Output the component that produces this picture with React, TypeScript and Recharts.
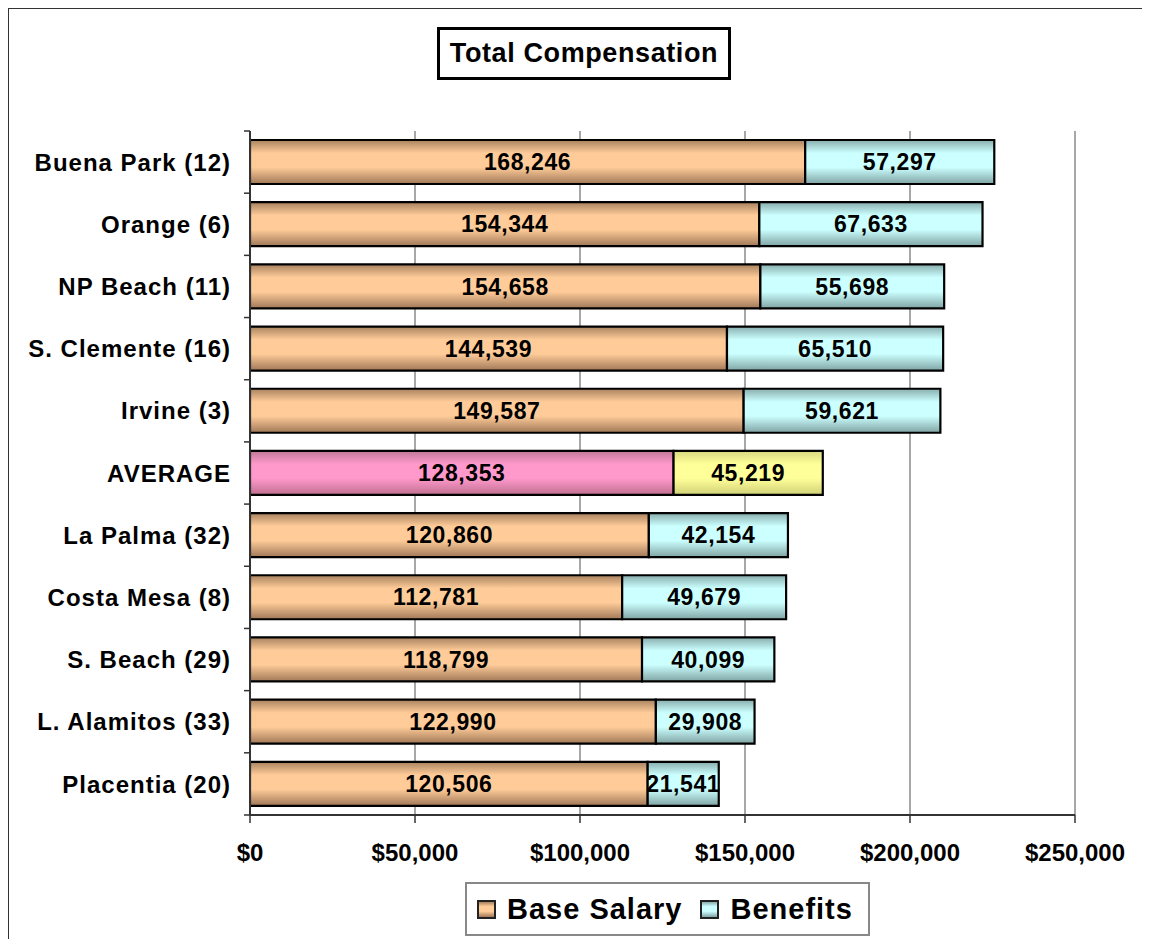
import React from "react";
import { BarChart, Bar, XAxis, YAxis, CartesianGrid, LabelList, Cell } from "recharts";

const categories = [
  "Buena Park (12)",
  "Orange (6)",
  "NP Beach (11)",
  "S. Clemente (16)",
  "Irvine (3)",
  "AVERAGE",
  "La Palma (32)",
  "Costa Mesa (8)",
  "S. Beach (29)",
  "L. Alamitos (33)",
  "Placentia (20)",
];
const baseSalary = [168246, 154344, 154658, 144539, 149587, 128353, 120860, 112781, 118799, 122990, 120506];
const benefits = [57297, 67633, 55698, 65510, 59621, 45219, 42154, 49679, 40099, 29908, 21541];
const xTicks = [0, 50000, 100000, 150000, 200000, 250000];
const highlightCategory = "AVERAGE";

const data = categories.map((name, i) => ({ name, base: baseSalary[i], benefits: benefits[i] }));

const FONT = '"Liberation Sans", Arial, Helvetica, sans-serif';
const CHART_W = 1142;
const CHART_H = 931;
const MARGIN = { top: 123, right: 75, left: 0, bottom: 64 };
const X_AXIS_H = 60;
const PLOT_H = CHART_H - MARGIN.top - MARGIN.bottom - X_AXIS_H;
const BAND = PLOT_H / categories.length;

const fmtNum = (v: any) => Number(v).toLocaleString("en-US");
const fmtMoney = (v: any) => "$" + Number(v).toLocaleString("en-US");

const YTick = (props: any) => {
  const { x, y, payload, index } = props;
  const half = BAND / 2;
  return (
    <g>
      <text
        x={x - 19}
        y={y}
        dy="0.36em"
        textAnchor="end"
        fontFamily={FONT}
        fontWeight="bold"
        fontSize={24}
        letterSpacing={1}
        fill="#000"
      >
        {payload.value}
      </text>
      <line x1={x - 6} x2={x} y1={y - half} y2={y - half} stroke="#333" strokeWidth={1.5} />
      {index === categories.length - 1 && (
        <line x1={x - 6} x2={x} y1={y + half} y2={y + half} stroke="#333" strokeWidth={1.5} />
      )}
    </g>
  );
};

const XTick = (props: any) => {
  const { x, y, payload } = props;
  return (
    <text
      x={x}
      y={y + 38}
      textAnchor="middle"
      fontFamily={FONT}
      fontWeight="bold"
      fontSize={24}
      fill="#000"
    >
      {fmtMoney(payload.value)}
    </text>
  );
};

const labelStyle = {
  fontFamily: FONT,
  fontWeight: "bold" as const,
  fontSize: 23,
  letterSpacing: 0.6,
};

const grad = (id: string, edgeTop: string, mid: string, edgeBottom: string) => (
  <linearGradient id={id} x1="0" y1="0" x2="0" y2="1">
    <stop offset="0%" stopColor={edgeTop} />
    <stop offset="30%" stopColor={mid} />
    <stop offset="62%" stopColor={mid} />
    <stop offset="100%" stopColor={edgeBottom} />
  </linearGradient>
);

export default function App() {
  return (
    <div style={{ position: "relative", width: CHART_W, height: CHART_H, fontFamily: FONT, background: "#fff" }}>
      <style>{`html,body{overflow:hidden}`}</style>
      <svg width={0} height={0} style={{ position: "absolute" }}>
        <defs>
          {grad("gTan", "#a8825f", "#ffcc99", "#a07858")}
          {grad("gCyan", "#88adad", "#ccffff", "#80a4a4")}
          {grad("gPink", "#c07898", "#ff99cc", "#c07090")}
          {grad("gYellow", "#d8d880", "#ffff99", "#d0d078")}
        </defs>
      </svg>
      <div style={{ position: "absolute", left: -1, top: -1, width: 1150, height: 2, background: "#333" }} />
      <div style={{ position: "absolute", left: -1, top: -1, width: 2, height: 940, background: "#333" }} />

      <div
        style={{
          position: "absolute",
          left: 429,
          top: 19,
          width: 294,
          height: 53,
          boxSizing: "border-box",
          border: "3px solid #000",
          display: "flex",
          alignItems: "center",
          justifyContent: "center",
          fontWeight: "bold",
          fontSize: 27,
          letterSpacing: 0.6,
          color: "#000",
        }}
      >
        Total Compensation
      </div>

      <div style={{ position: "absolute", left: 0, top: 0 }}>
        <BarChart width={CHART_W} height={CHART_H} data={data} layout="vertical" margin={MARGIN} barSize={44}>
          <CartesianGrid horizontal={false} vertical={true} stroke="#8a8a8a" strokeWidth={1.5} />
          <XAxis
            type="number"
            dataKey="base"
            domain={[0, 250000]}
            ticks={xTicks}
            interval={0}
            height={X_AXIS_H}
            axisLine={{ stroke: "#333", strokeWidth: 2 }}
            tickLine={{ stroke: "#333", strokeWidth: 1.5 }}
            tickSize={8}
            tickMargin={0}
            tick={<XTick />}
            allowDataOverflow
          />
          <XAxis
            xAxisId="top"
            orientation="top"
            type="number"
            domain={[0, 250000]}
            height={0}
            tick={false}
            tickLine={false}
            axisLine={{ stroke: "#8a8a8a", strokeWidth: 2 }}
          />
          <YAxis
            type="category"
            dataKey="name"
            width={242}
            interval={0}
            axisLine={{ stroke: "#333", strokeWidth: 2 }}
            tickLine={false}
            tickSize={0}
            tickMargin={0}
            tick={<YTick />}
          />
          <Bar dataKey="base" name="Base Salary" stackId="a" fill="url(#gTan)" stroke="#000" strokeWidth={2.2} isAnimationActive={false}>
            {data.map((d) => (
              <Cell key={d.name} fill={d.name === highlightCategory ? "url(#gPink)" : "url(#gTan)"} />
            ))}
            <LabelList dataKey="base" position="center" formatter={fmtNum} fill="#000" style={labelStyle} />
          </Bar>
          <Bar dataKey="benefits" name="Benefits" stackId="a" fill="url(#gCyan)" stroke="#000" strokeWidth={2.2} isAnimationActive={false}>
            {data.map((d) => (
              <Cell key={d.name} fill={d.name === highlightCategory ? "url(#gYellow)" : "url(#gCyan)"} />
            ))}
            <LabelList dataKey="benefits" position="center" formatter={fmtNum} fill="#000" style={labelStyle} />
          </Bar>
        </BarChart>
      </div>

      <div
        style={{
          position: "absolute",
          left: 457,
          top: 874,
          width: 405,
          height: 54,
          boxSizing: "border-box",
          border: "2px solid #888",
          display: "flex",
          alignItems: "center",
          paddingLeft: 10,
          fontWeight: "bold",
          fontSize: 29,
          letterSpacing: 1,
          color: "#000",
          background: "#fff",
        }}
      >
        <span
          style={{
            display: "inline-block",
            width: 19,
            height: 19,
            boxSizing: "border-box",
            border: "2px solid #222",
            background: "linear-gradient(#a8825f, #ffcc99 30%, #ffcc99 62%, #a07858)",
            marginRight: 11,
          }}
        />
        <span>Base Salary</span>
        <span
          style={{
            display: "inline-block",
            width: 19,
            height: 19,
            boxSizing: "border-box",
            border: "2px solid #222",
            background: "linear-gradient(#88adad, #ccffff 30%, #ccffff 62%, #80a4a4)",
            marginLeft: 18,
            marginRight: 11,
          }}
        />
        <span>Benefits</span>
      </div>
    </div>
  );
}
